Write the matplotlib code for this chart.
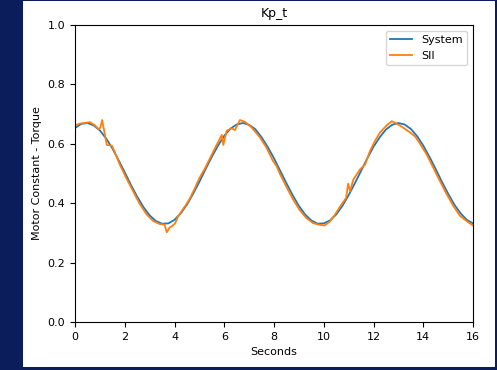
import matplotlib
matplotlib.use("Agg")
import matplotlib.pyplot as plt
from matplotlib.patches import Rectangle

# System curve, sampled every 0.25 s
sys_t = [i * 0.25 for i in range(65)]
sys_v = [0.653, 0.667, 0.670, 0.662, 0.645, 0.618, 0.585, 0.545, 0.504, 0.461,
         0.422, 0.387, 0.359, 0.340, 0.331, 0.332, 0.344, 0.366, 0.395, 0.432,
         0.472, 0.515, 0.556, 0.594, 0.627, 0.651, 0.665, 0.670, 0.664, 0.649,
         0.622, 0.589, 0.551, 0.509, 0.467, 0.427, 0.391, 0.362, 0.342, 0.331,
         0.332, 0.342, 0.362, 0.391, 0.427, 0.467, 0.509, 0.551, 0.590, 0.622,
         0.648, 0.664, 0.670, 0.665, 0.650, 0.626, 0.594, 0.556, 0.515, 0.472,
         0.432, 0.395, 0.366, 0.344, 0.332]

# SII estimate (irregular samples)
sii_t = [0.0, 0.2, 0.4, 0.6, 0.8, 0.95, 1.02, 1.09, 1.28, 1.48, 1.6, 1.8, 2.06,
         2.33, 2.6, 2.87, 3.14, 3.4, 3.6, 3.69, 3.8, 3.9, 4.02, 4.14, 4.3, 4.45,
         4.61, 4.81, 5.01, 5.21, 5.43, 5.68, 5.9, 5.96, 6.1, 6.3, 6.43, 6.63,
         6.83, 7.1, 7.43, 7.69, 7.96, 8.1, 8.23, 8.5, 8.77, 9.03, 9.3, 9.57, 9.84,
         10.04, 10.24, 10.44, 10.65, 10.9, 10.98, 11.06, 11.19, 11.46, 11.66,
         11.86, 12.06, 12.26, 12.53, 12.73, 12.86, 13.13, 13.47, 13.67, 13.87,
         14.13, 14.4, 14.66, 14.93, 15.2, 15.47, 15.74, 16.0]
sii_v = [0.662, 0.668, 0.670, 0.673, 0.662, 0.649, 0.655, 0.680, 0.596, 0.594,
         0.572, 0.530, 0.485, 0.441, 0.398, 0.363, 0.340, 0.330, 0.328, 0.302,
         0.318, 0.323, 0.332, 0.355, 0.375, 0.393, 0.415, 0.449, 0.486, 0.515,
         0.552, 0.594, 0.630, 0.596, 0.644, 0.652, 0.646, 0.680, 0.674, 0.655,
         0.622, 0.588, 0.542, 0.525, 0.500, 0.455, 0.412, 0.377, 0.350, 0.333,
         0.327, 0.325, 0.338, 0.360, 0.388, 0.418, 0.466, 0.440, 0.480, 0.514,
         0.530, 0.576, 0.610, 0.638, 0.662, 0.676, 0.671, 0.658, 0.638, 0.625,
         0.600, 0.565, 0.520, 0.476, 0.432, 0.392, 0.358, 0.340, 0.325]

fig = plt.figure(figsize=(4.97, 3.70), dpi=100, facecolor='#0b1e5b')
# white card inside the dark frame
fig.patches.append(Rectangle((23 / 497, 3.5 / 370), 472 / 497, 365.5 / 370,
                             transform=fig.transFigure, facecolor='white',
                             edgecolor='none', zorder=-10))

ax = fig.add_axes([75 / 497, 1 - 322 / 370, 398 / 497, 297 / 370])
ax.set_zorder(5)
ax.plot(sys_t, sys_v, color='#1f77b4', lw=1.3, label='System')
ax.plot(sii_t, sii_v, color='#ff7f0e', lw=1.3, label='SII')

ax.set_xlim(0, 16)
ax.set_ylim(0, 1.0)
ax.set_title('Kp_t', fontsize=9)
ax.set_xlabel('Seconds', fontsize=8)
ax.set_ylabel('Motor Constant - Torque', fontsize=8)
ax.tick_params(labelsize=8)
ax.legend(loc='upper right', fontsize=8)

plt.savefig('out.png', dpi=100, facecolor=fig.get_facecolor())
